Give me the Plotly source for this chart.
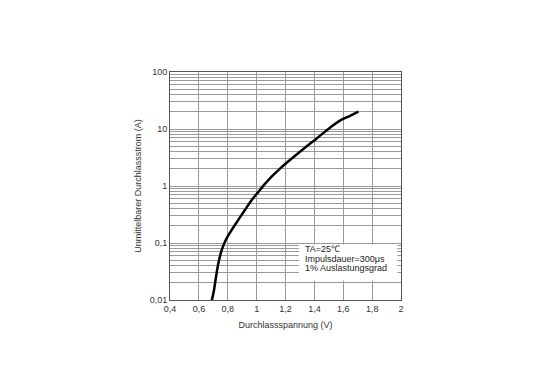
import math
import plotly.graph_objects as go

voltage = [0.69, 0.705, 0.719, 0.735, 0.758, 0.786, 0.827, 0.873, 0.919, 0.966, 1.012, 1.05, 1.104, 1.162, 1.30, 1.416, 1.508, 1.577, 1.647, 1.705]
current = [0.01, 0.015, 0.0257, 0.044, 0.075, 0.113, 0.169, 0.254, 0.38, 0.568, 0.79, 1.035, 1.46, 2.02, 3.98, 6.84, 10.5, 14.0, 17.0, 20.1]

x_ticks = [0.4, 0.6, 0.8, 1.0, 1.2, 1.4, 1.6, 1.8, 2.0]
x_labels = ["0,4", "0,6", "0,8", "1", "1,2", "1,4", "1,6", "1,8", "2"]
y_major = [0.01, 0.1, 1, 10, 100]
y_labels = ["0,01", "0,1", "1", "10", "100"]
note_lines = ["TA=25℃", "Impulsdauer=300μs", "1% Auslastungsgrad"]

y_vals, y_text = [], []
for i, d in enumerate(y_major):
    y_vals.append(d)
    y_text.append(y_labels[i])
    if d < 100:
        for m in range(2, 10):
            y_vals.append(d * m)
            y_text.append("")

fig = go.Figure()
fig.add_trace(go.Scatter(x=voltage, y=current, mode="lines",
                         line=dict(color="black", width=2.5, shape="spline", smoothing=1.0),
                         showlegend=False))

font = dict(family="Liberation Sans, Arial, sans-serif", size=9, color="#333")
fig.update_layout(
    width=540, height=382,
    margin=dict(l=162, r=147, t=64, b=90),
    paper_bgcolor="white", plot_bgcolor="white",
    font=font,
    xaxis=dict(range=[0.4, 2.0], tickvals=x_ticks, ticktext=x_labels,
               showgrid=True, gridcolor="#9a9a9a", gridwidth=1,
               zeroline=False, showline=True, linecolor="#555", linewidth=1, mirror=True,
               ticks="", title=dict(text="Durchlassspannung (V)", font=font, standoff=8)),
    yaxis=dict(type="log", range=[-2, 2], tickvals=y_vals, ticktext=y_text,
               showgrid=True, gridcolor="#9a9a9a", gridwidth=1,
               zeroline=False, showline=True, linecolor="#555", linewidth=1, mirror=True,
               ticks="", title=dict(text="Unmittelbarer Durchlassstrom (A)", font=font, standoff=6)),
)

# white box behind the note (hides grid lines)
fig.add_shape(type="rect", xref="x", yref="y", x0=1.293, x1=1.975, y0=0.022, y1=0.094,
              fillcolor="white", line=dict(width=0), layer="between")

note_y = [0.078, 0.053, 0.036]
for txt, yy in zip(note_lines, note_y):
    fig.add_annotation(xref="x", yref="y", x=1.318, y=math.log10(yy), xanchor="left", yanchor="middle",
                       text=txt, showarrow=False, align="left",
                       font=dict(family="Liberation Sans, Arial, sans-serif", size=9, color="#222"))

fig.write_html("out.html")
